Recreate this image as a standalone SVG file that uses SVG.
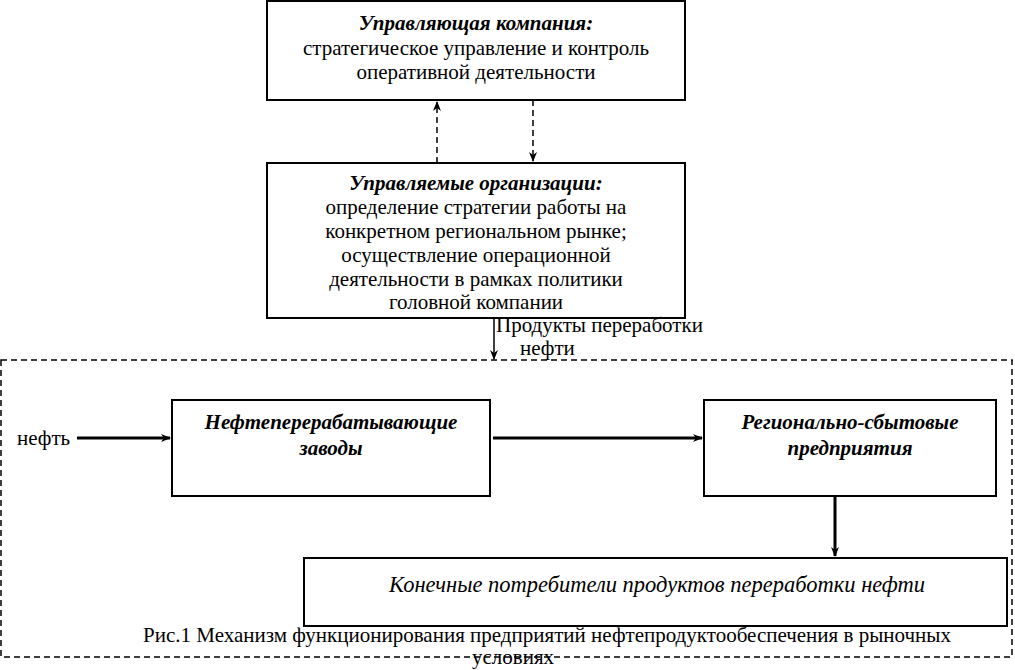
<svg xmlns="http://www.w3.org/2000/svg" width="1015" height="670" viewBox="0 0 1015 670">
<defs>
<marker id="ah" markerWidth="10" markerHeight="8" refX="9" refY="4" orient="auto" markerUnits="userSpaceOnUse">
<path d="M0,0 L10,4 L0,8 L3,4 Z" fill="#000"/>
</marker>
<style>
.box{fill:#fff;stroke:#000;stroke-width:2}
.t{font-family:"Liberation Serif","DejaVu Serif",serif;font-size:21px;fill:#000;text-anchor:middle}
.s{text-anchor:start}
.bi{font-weight:bold;font-style:italic}
.i{font-style:italic}
.dash{fill:none;stroke:#000;stroke-width:1.5;stroke-dasharray:6,4}
.thick{stroke:#000;stroke-width:3;fill:none}
.thin{stroke:#000;stroke-width:1.5;fill:none}
</style>
</defs>
<rect width="1015" height="670" fill="#fff"/>
<g id="container">
<rect x="1" y="360" width="1011" height="297" class="dash"/>
</g>
<g id="mgmt">
<rect x="267" y="1" width="418" height="99" class="box"/>
<text class="t bi" x="476" y="30">Управляющая компания:</text>
<text class="t" x="476" y="55">стратегическое управление и контроль</text>
<text class="t" x="476" y="79">оперативной деятельности</text>
</g>
<g id="orgs">
<rect x="267" y="163" width="418" height="155" class="box"/>
<text class="t bi" x="476" y="190">Управляемые организации:</text>
<text class="t" x="476" y="214">определение стратегии работы на</text>
<text class="t" x="476" y="238">конкретном региональном рынке;</text>
<text class="t" x="476" y="262">осуществление операционной</text>
<text class="t" x="476" y="286">деятельности в рамках политики</text>
<text class="t" x="476" y="309">головной компании</text>
</g>
<g id="npz">
<rect x="172" y="400" width="318" height="96" class="box"/>
<text class="t bi" x="331" y="429">Нефтеперерабатывающие</text>
<text class="t bi" x="331" y="455">заводы</text>
</g>
<g id="rsp">
<rect x="704" y="400" width="292" height="96" class="box"/>
<text class="t bi" x="850" y="429">Регионально-сбытовые</text>
<text class="t bi" x="850" y="455">предприятия</text>
</g>
<g id="consumers">
<rect x="304" y="558" width="703" height="68" class="box"/>
<text class="t i" x="657" y="592" style="font-size:22.5px">Конечные потребители продуктов переработки нефти</text>
</g>
<g id="labels">
<text class="t s" x="17" y="445">нефть</text>
<text class="t s" x="496" y="332">Продукты переработки</text>
<text class="t s" x="520" y="355">нефти</text>
<text class="t s" x="143" y="642">Рис.1 Механизм функционирования предприятий нефтепродуктообеспечения в рыночных</text>
<text class="t" x="513" y="664">условиях</text>
</g>
<g id="connectors">
<line x1="437" y1="163" x2="437" y2="102" class="dash" marker-end="url(#ah)"/>
<line x1="533" y1="100" x2="533" y2="161" class="dash" marker-end="url(#ah)"/>
<line x1="494" y1="318" x2="494" y2="359" class="thin" marker-end="url(#ah)"/>
<line x1="77" y1="438" x2="170" y2="438" class="thick" marker-end="url(#ah)"/>
<line x1="493" y1="438" x2="702" y2="438" class="thick" marker-end="url(#ah)"/>
<line x1="835" y1="497" x2="835" y2="556" class="thick" marker-end="url(#ah)"/>
</g>
</svg>
